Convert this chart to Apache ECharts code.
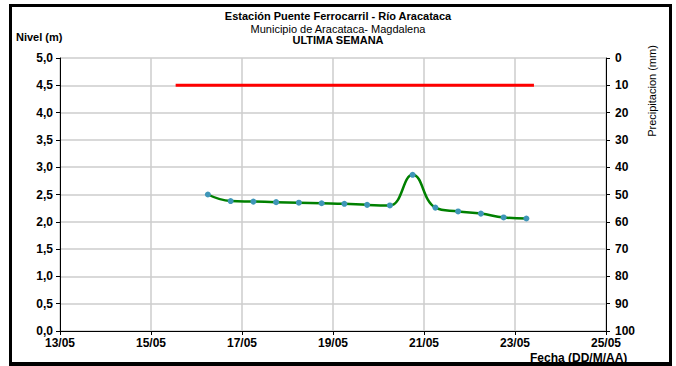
<!DOCTYPE html>
<html>
<head>
<meta charset="utf-8">
<script src="https://cdn.jsdelivr.net/npm/echarts@6/dist/echarts.min.js"></script>
<style>
html,body{margin:0;padding:0;background:#fff;}
#c{width:676px;height:366px;}
</style>
</head>
<body>
<div id="c"></div>
<script>
// ---- data ----
const fechas = ['16/05 06:00','16/05 18:00','17/05 06:00','17/05 18:00','18/05 06:00','18/05 18:00','19/05 06:00','19/05 18:00','20/05 06:00','20/05 18:00','21/05 06:00','21/05 18:00','22/05 06:00','22/05 18:00','23/05 06:00'];
const nivel = [2.50, 2.38, 2.37, 2.36, 2.35, 2.34, 2.33, 2.31, 2.30, 2.86, 2.26, 2.19, 2.15, 2.08, 2.06];
const umbralFechas = ['15/05 13:00', '23/05 10:00'];
const umbralNivel = [4.5, 4.5];
const xTickLabels = ['13/05','15/05','17/05','19/05','21/05','23/05','25/05'];
const nivelTicks = ['0,0','0,5','1,0','1,5','2,0','2,5','3,0','3,5','4,0','4,5','5,0'];
const precipTicks = ['0','10','20','30','40','50','60','70','80','90','100'];

const titulo = 'Estación Puente Ferrocarril - Río Aracataca';
const subtitulo = 'Municipio de Aracataca- Magdalena';
const periodo = 'ULTIMA SEMANA';

// days elapsed since 13/05 00:00
function toDays(s) {
  const [d, t] = s.split(' ');
  const day = parseInt(d.split('/')[0], 10);
  const [h, m] = t.split(':').map(Number);
  return (day - 13) + (h + m / 60) / 24;
}

const FONT = '"Liberation Sans", Arial, sans-serif';
const chart = echarts.init(document.getElementById('c'), null, {renderer: 'svg'});

chart.setOption({
  animation: false,
  backgroundColor: '#ffffff',
  textStyle: {fontFamily: FONT},
  title: [
    {text: titulo, left: 'center', top: 10, padding: 0,
     textStyle: {fontFamily: FONT, fontSize: 11, fontWeight: 'bold', color: '#000'}},
    {text: subtitulo, left: 'center', top: 23, padding: 0,
     textStyle: {fontFamily: FONT, fontSize: 11, fontWeight: 'normal', color: '#000'}},
    {text: periodo, left: 'center', top: 34, padding: 0,
     textStyle: {fontFamily: FONT, fontSize: 11, fontWeight: 'bold', color: '#000'}},
    {text: 'Nivel (m)', left: 16, top: 31, padding: 0,
     textStyle: {fontFamily: FONT, fontSize: 11, fontWeight: 'bold', color: '#000'}}
  ],
  grid: {left: 60, right: 70, top: 58, bottom: 35, containLabel: false},
  xAxis: {
    type: 'value', min: 0, max: 12, interval: 2,
    axisLine: {show: true, lineStyle: {color: '#000', width: 1}},
    axisTick: {show: true, inside: false, length: 4, lineStyle: {color: '#000'}},
    axisLabel: {
      margin: 6, color: '#000', fontFamily: FONT, fontSize: 12, fontWeight: 'bold',
      formatter: v => xTickLabels[Math.round(v / 2)]
    },
    splitLine: {show: true, lineStyle: {color: '#cccccc', width: 1.5}}
  },
  yAxis: [
    {
      type: 'value', min: 0, max: 5, interval: 0.5, position: 'left',
      axisLine: {show: true, lineStyle: {color: '#000', width: 1}},
      axisTick: {show: true, length: 4, lineStyle: {color: '#000'}},
      axisLabel: {
        margin: 7, color: '#000', fontFamily: FONT, fontSize: 12, fontWeight: 'bold',
        formatter: v => nivelTicks[Math.round(v * 2)]
      },
      splitLine: {show: true, lineStyle: {color: '#cccccc', width: 1.5}}
    },
    {
      type: 'value', min: 0, max: 100, interval: 10, position: 'right', inverse: true,
      axisLine: {show: true, lineStyle: {color: '#000', width: 1}},
      axisTick: {show: true, length: 4, lineStyle: {color: '#000'}},
      axisLabel: {
        margin: 9, color: '#000', fontFamily: FONT, fontSize: 12, fontWeight: 'bold',
        formatter: v => precipTicks[Math.round(v / 10)]
      },
      splitLine: {show: false}
    }
  ],
  series: [
    {
      name: 'Umbral', type: 'line', yAxisIndex: 0,
      data: umbralFechas.map((f, i) => [toDays(f), umbralNivel[i]]),
      showSymbol: false, symbol: 'none',
      lineStyle: {color: '#ff0000', width: 3},
      z: 3
    },
    {
      name: 'Nivel', type: 'line', yAxisIndex: 0,
      data: fechas.map((f, i) => [toDays(f), nivel[i]]),
      smooth: 0.45,
      symbol: 'circle', symbolSize: 6, showSymbol: true,
      lineStyle: {color: '#008000', width: 2.5},
      itemStyle: {color: '#3f96b8', borderWidth: 0},
      z: 4
    }
  ],
  graphic: [
    {
      type: 'text', left: 530, top: 352, z: 1,
      style: {text: 'Fecha (DD/M/AA)', fontFamily: FONT, fontSize: 12, fontWeight: 'bold', fill: '#000'}
    },
    {
      type: 'text', z: 1, x: 652, y: 91, rotation: Math.PI / 2,
      style: {text: 'Precipitacion (mm)', fontFamily: FONT, fontSize: 11, fill: '#000',
              align: 'center', verticalAlign: 'middle'}
    },
    {
      type: 'rect', z: 100, silent: true,
      shape: {x: 10.5, y: 5.5, width: 660, height: 358},
      style: {fill: 'none', stroke: '#000', lineWidth: 3}
    },
    {
      type: 'rect', z: 100, silent: true,
      shape: {x: 9, y: 363, width: 663, height: 3},
      style: {fill: '#000'}
    }
  ]
});
</script>
</body>
</html>
